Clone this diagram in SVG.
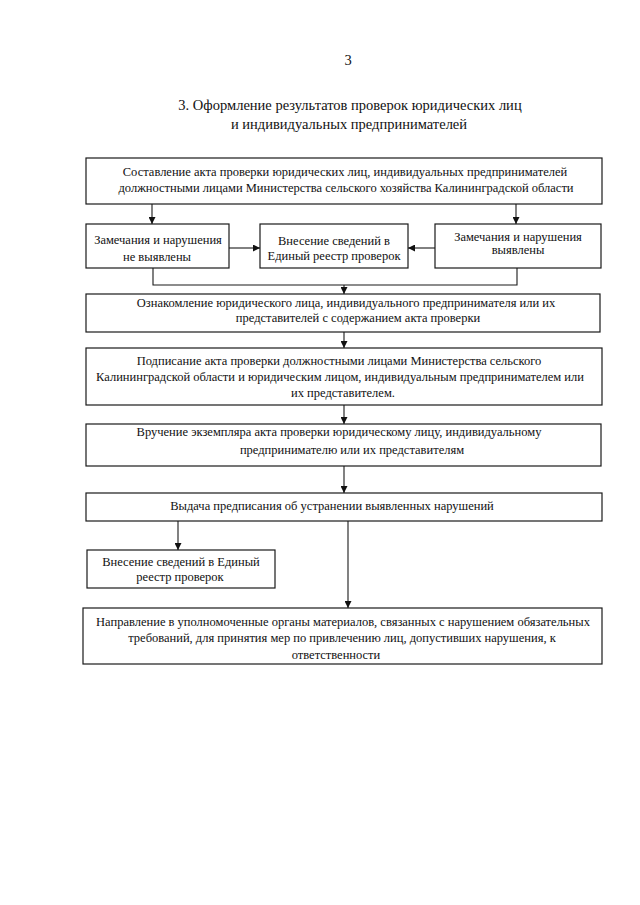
<svg xmlns="http://www.w3.org/2000/svg" width="640" height="905" viewBox="0 0 640 905">
<defs>
<marker id="ah" viewBox="0 0 10 10" refX="10" refY="5" markerWidth="7" markerHeight="7" markerUnits="userSpaceOnUse" orient="auto">
<path d="M0,0 L10,5 L0,10 z" fill="#111"/>
</marker>
</defs>
<style>
.box{fill:#fff;stroke:#1a1a1a;stroke-width:1.2}
.t{font-family:"Liberation Serif","Times New Roman",serif;font-size:12.5px;fill:#111;text-anchor:middle}
.h{font-family:"Liberation Serif","Times New Roman",serif;font-size:14.5px;fill:#111;text-anchor:middle}
.c{fill:none;stroke:#1a1a1a;stroke-width:1.1}
.a{fill:none;stroke:#1a1a1a;stroke-width:1.1;marker-end:url(#ah)}
</style>
<rect width="640" height="905" fill="#fff"/>
<text class="h" x="348" y="65">3</text>
<text class="h" x="350" y="110">3. Оформление результатов проверок юридических лиц</text>
<text class="h" x="349" y="129">и индивидуальных предпринимателей</text>

<g id="connectors">
<line class="a" x1="152" y1="204" x2="152" y2="224"/>
<line class="a" x1="516" y1="204" x2="516" y2="224"/>
<line class="a" x1="229" y1="248" x2="260" y2="248"/>
<line class="a" x1="435" y1="248" x2="408" y2="248"/>
<polyline class="c" points="153,268 153,285 517,285 517,268"/>
<line class="a" x1="344" y1="285" x2="344" y2="294"/>
<line class="a" x1="344" y1="332" x2="344" y2="348"/>
<line class="a" x1="344" y1="405" x2="344" y2="424"/>
<line class="a" x1="344" y1="466" x2="344" y2="493"/>
<line class="a" x1="178" y1="521" x2="178" y2="550"/>
<line class="a" x1="348" y1="521" x2="348" y2="608"/>
</g>

<g id="n1">
<rect class="box" x="86" y="158" width="516" height="46"/>
<text class="t" x="345" y="176">Составление акта проверки юридических лиц, индивидуальных предпринимателей</text>
<text class="t" x="346" y="192">должностными лицами Министерства сельского хозяйства Калининградской области</text>
</g>
<g id="n2">
<rect class="box" x="86" y="224" width="143" height="44"/>
<text class="t" x="158" y="244">Замечания и нарушения</text>
<text class="t" x="157" y="261">не выявлены</text>
</g>
<g id="n3">
<rect class="box" x="260" y="224" width="148" height="44"/>
<text class="t" x="334" y="245">Внесение сведений в</text>
<text class="t" x="334" y="260">Единый реестр проверок</text>
</g>
<g id="n4">
<rect class="box" x="435" y="224" width="166" height="44"/>
<text class="t" x="518" y="241">Замечания и нарушения</text>
<text class="t" x="518" y="254">выявлены</text>
</g>
<g id="n5">
<rect class="box" x="86" y="294" width="514" height="38"/>
<text class="t" x="346" y="307">Ознакомление юридического лица, индивидуального предпринимателя или их</text>
<text class="t" x="358" y="322">представителей с содержанием акта проверки</text>
</g>
<g id="n6">
<rect class="box" x="86" y="348" width="516" height="57"/>
<text class="t" x="339" y="365">Подписание акта проверки должностными лицами Министерства сельского</text>
<text class="t" x="340" y="381">Калининградской области и юридическим лицом, индивидуальным предпринимателем или</text>
<text class="t" x="343" y="397">их представителем.</text>
</g>
<g id="n7">
<rect class="box" x="86" y="424" width="515" height="42"/>
<text class="t" x="339" y="436">Вручение экземпляра акта проверки юридическому лицу, индивидуальному</text>
<text class="t" x="352" y="454">предпринимателю или их представителям</text>
</g>
<g id="n8">
<rect class="box" x="86" y="493" width="516" height="28"/>
<text class="t" x="332" y="510">Выдача предписания об устранении выявленных нарушений</text>
</g>
<g id="n9">
<rect class="box" x="87" y="550" width="188" height="38"/>
<text class="t" x="181" y="566">Внесение сведений в Единый</text>
<text class="t" x="180" y="581">реестр проверок</text>
</g>
<g id="n10">
<rect class="box" x="83" y="608" width="519" height="56"/>
<text class="t" x="343" y="626">Направление в уполномоченные органы материалов, связанных с нарушением обязательных</text>
<text class="t" x="342" y="642">требований, для принятия мер по привлечению лиц, допустивших нарушения, к</text>
<text class="t" x="336" y="659">ответственности</text>
</g>
</svg>
